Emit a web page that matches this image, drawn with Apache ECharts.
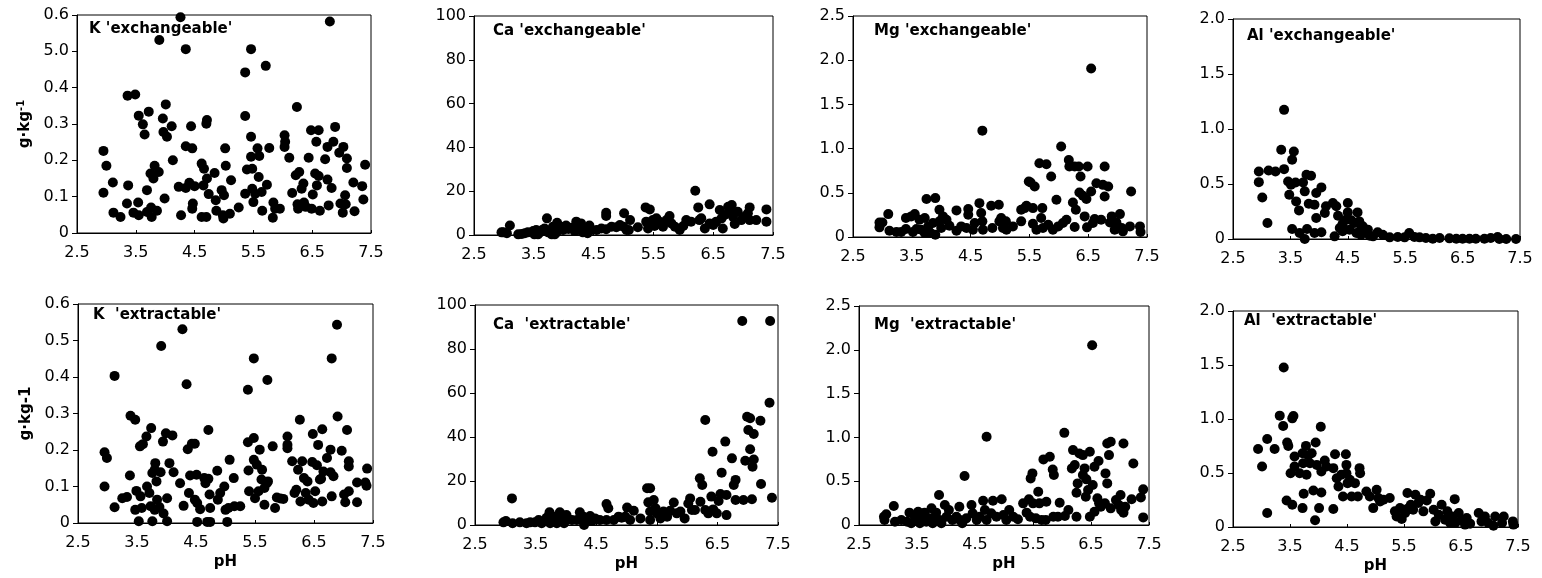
<!DOCTYPE html>
<html>
<head>
<meta charset="utf-8">
<script src="https://cdn.jsdelivr.net/npm/echarts@6/dist/echarts.min.js"></script>
<style>
  html, body { margin: 0; padding: 0; background: #fff; }
  #chart { width: 1542px; height: 578px; }
</style>
</head>
<body>
<div id="chart"></div>
<script>
// 每个小图的标题
const panelTitles = [
  "K 'exchangeable'", "Ca 'exchangeable'", "Mg 'exchangeable'", "Al 'exchangeable'",
  "K  'extractable'", "Ca  'extractable'", "Mg  'extractable'", "Al  'extractable'"
];

// y 轴刻度文字（原图第一幅图的 0.5 印成了 5.0）
const kTicksTop = ['0', '0.1', '0.2', '0.3', '0.4', '5.0', '0.6'];
const kTicks = ['0', '0.1', '0.2', '0.3', '0.4', '0.5', '0.6'];
const caTicks = ['0', '20', '40', '60', '80', '100'];
const mgTicks = ['0', '0.5', '1.0', '1.5', '2.0', '2.5'];
const alTicks = ['0', '0.5', '1.0', '1.5', '2.0'];
const phTicks = ['2.5', '3.5', '4.5', '5.5', '6.5', '7.5'];

// 数据：[pH, g·kg-1]
const kExch = [
  [2.95,0.226],[2.95,0.111],[3.0,0.185],[3.11,0.139],[3.12,0.056],[3.24,0.044],[3.37,0.131],[3.36,0.378],
  [3.49,0.381],[3.35,0.081],[3.46,0.056],[3.54,0.084],[3.55,0.049],[3.55,0.323],[3.62,0.299],[3.65,0.271],
  [3.69,0.058],[3.69,0.118],[3.72,0.334],[3.75,0.164],[3.76,0.070],[3.77,0.044],[3.80,0.150],[3.82,0.185],
  [3.86,0.061],[3.89,0.168],[3.90,0.531],[3.96,0.315],[3.97,0.278],[4.01,0.354],[4.03,0.265],[3.99,0.095],
  [4.11,0.294],[4.13,0.200],[4.26,0.594],[4.23,0.127],[4.27,0.049],[4.35,0.506],[4.35,0.239],[4.35,0.124],
  [4.41,0.138],[4.44,0.294],[4.46,0.233],[4.50,0.129],[4.47,0.081],[4.46,0.067],[4.62,0.044],[4.62,0.191],
  [4.66,0.177],[4.65,0.131],[4.70,0.044],[4.71,0.150],[4.71,0.311],[4.70,0.301],[4.74,0.107],[4.84,0.165],
  [4.86,0.090],[4.87,0.061],[4.96,0.118],[5.0,0.104],[4.98,0.049],[5.02,0.233],[5.03,0.185],[4.99,0.040],
  [5.10,0.053],[5.12,0.145],[5.25,0.070],[5.36,0.322],[5.36,0.442],[5.36,0.108],[5.39,0.175],[5.46,0.506],
  [5.46,0.265],[5.46,0.210],[5.48,0.177],[5.48,0.122],[5.50,0.085],[5.53,0.108],[5.57,0.233],[5.59,0.154],
  [5.60,0.212],[5.64,0.113],[5.65,0.061],[5.71,0.460],[5.73,0.133],[5.77,0.234],[5.84,0.084],[5.83,0.042],
  [5.87,0.067],[5.95,0.067],[6.03,0.269],[6.04,0.251],[6.03,0.237],[6.11,0.207],[6.16,0.110],[6.24,0.347],
  [6.22,0.159],[6.28,0.168],[6.25,0.079],[6.26,0.067],[6.32,0.122],[6.35,0.136],[6.36,0.084],[6.39,0.072],
  [6.44,0.207],[6.48,0.283],[6.49,0.067],[6.51,0.106],[6.55,0.164],[6.57,0.251],[6.58,0.131],[6.61,0.283],
  [6.61,0.157],[6.63,0.061],[6.72,0.203],[6.76,0.237],[6.76,0.147],[6.78,0.076],[6.80,0.582],[6.83,0.124],
  [6.86,0.251],[6.89,0.292],[6.96,0.221],[6.98,0.081],[7.03,0.237],[7.02,0.056],[7.06,0.104],[7.07,0.079],
  [7.09,0.205],[7.09,0.179],[7.22,0.060],[7.20,0.139],[7.35,0.129],[7.37,0.092],[7.40,0.188]
];

const caExch = [
  [2.96,1.2],[2.99,1.2],[3.10,4.3],[3.05,0.8],[3.24,0.3],[3.35,0.8],[3.40,1.2],[3.49,1.8],[3.54,2.3],[3.51,0.3],
  [3.60,1.2],[3.64,2.3],[3.68,3.0],[3.72,7.6],[3.74,1.2],[3.79,2.3],[3.82,3.8],[3.85,0.3],[3.89,5.6],[3.88,1.2],
  [3.96,3.8],[3.99,2.3],[4.04,4.3],[4.08,2.7],[4.13,3.3],[4.21,6.1],[4.23,2.3],[4.29,5.3],[4.32,1.2],[4.35,3.3],
  [4.38,1.2],[4.43,4.3],[4.46,2.3],[4.55,2.3],[4.63,3.0],[4.71,10.2],[4.71,8.7],[4.71,2.6],[4.80,3.8],[4.88,3.5],
  [4.94,4.6],[5.01,9.9],[5.00,3.8],[5.05,2.3],[5.11,6.8],[5.09,2.3],[5.24,3.5],[5.37,12.6],[5.44,11.7],[5.38,6.1],
  [5.41,3.0],[5.49,6.8],[5.52,4.1],[5.55,7.6],[5.60,6.1],[5.66,3.8],[5.72,6.8],[5.77,8.7],[5.80,5.3],[5.86,3.8],
  [5.94,2.3],[6.00,4.1],[6.05,6.8],[6.13,6.1],[6.20,20.2],[6.25,12.6],[6.27,6.8],[6.30,7.6],[6.36,3.0],[6.44,14.0],
  [6.44,5.3],[6.50,4.6],[6.55,6.1],[6.61,11.4],[6.64,7.6],[6.66,3.0],[6.69,9.1],[6.75,12.9],[6.78,10.6],[6.81,13.7],
  [6.83,8.4],[6.86,5.0],[6.91,10.6],[6.97,6.8],[7.03,8.4],[7.11,12.6],[7.08,9.9],[7.11,6.8],[7.22,6.8],[7.39,11.7],
  [7.39,6.1],[3.57,0.3],[3.80,0.3],[4.18,2.0],[4.40,0.8],[3.30,0.5]
];

const mgExch = [
  [2.95,0.165],[3.0,0.165],[2.95,0.109],[3.10,0.259],[3.12,0.071],[3.24,0.056],[3.32,0.056],[3.40,0.090],
  [3.40,0.214],[3.49,0.233],[3.52,0.056],[3.55,0.259],[3.58,0.090],[3.63,0.195],[3.66,0.083],[3.72,0.045],
  [3.72,0.214],[3.75,0.429],[3.78,0.120],[3.82,0.045],[3.86,0.158],[3.90,0.440],[3.90,0.026],[3.97,0.308],
  [3.97,0.177],[4.03,0.233],[4.0,0.101],[4.09,0.195],[4.14,0.128],[4.26,0.301],[4.26,0.071],[4.34,0.120],
  [4.46,0.316],[4.46,0.252],[4.43,0.101],[4.54,0.083],[4.57,0.158],[4.65,0.383],[4.68,0.271],[4.70,1.203],
  [4.70,0.177],[4.71,0.083],[4.85,0.353],[4.87,0.101],[4.98,0.365],[4.99,0.177],[5.02,0.214],[5.05,0.101],
  [5.10,0.177],[5.11,0.083],[5.22,0.120],[5.36,0.308],[5.36,0.177],[5.42,0.327],[5.45,0.353],[5.49,0.628],
  [5.52,0.617],[5.56,0.327],[5.59,0.571],[5.56,0.150],[5.62,0.083],[5.67,0.835],[5.70,0.214],[5.72,0.327],
  [5.73,0.101],[5.79,0.823],[5.82,0.139],[5.87,0.684],[5.90,0.083],[5.96,0.421],[5.99,0.120],[6.04,1.023],
  [6.07,0.158],[6.13,0.195],[6.17,0.872],[6.18,0.797],[6.24,0.391],[6.27,0.797],[6.29,0.308],[6.27,0.113],
  [6.34,0.797],[6.37,0.684],[6.35,0.504],[6.41,0.466],[6.44,0.233],[6.47,0.429],[6.49,0.797],[6.48,0.109],
  [6.55,1.906],[6.55,0.515],[6.58,0.158],[6.61,0.203],[6.64,0.609],[6.72,0.195],[6.75,0.590],[6.78,0.459],
  [6.78,0.797],[6.84,0.571],[6.87,0.165],[6.90,0.233],[6.98,0.165],[6.95,0.083],[7.04,0.259],[7.07,0.101],
  [7.09,0.064],[7.21,0.120],[7.23,0.515],[7.38,0.120],[7.39,0.056]
];

const alExch = [
  [2.95,0.614],[2.95,0.517],[3.01,0.378],[3.10,0.145],[3.12,0.623],[3.24,0.614],[3.34,0.811],[3.39,1.174],
  [3.39,0.635],[3.46,0.523],[3.48,0.402],[3.51,0.493],[3.53,0.720],[3.56,0.796],[3.59,0.514],[3.53,0.091],
  [3.60,0.342],[3.65,0.260],[3.66,0.054],[3.72,0.514],[3.75,0.433],[3.75,0.0],[3.78,0.584],[3.79,0.091],
  [3.82,0.321],[3.86,0.575],[3.92,0.312],[3.95,0.418],[3.95,0.191],[3.92,0.054],[4.04,0.469],[4.04,0.061],
  [4.10,0.236],[4.12,0.297],[4.24,0.327],[4.27,0.024],[4.30,0.297],[4.33,0.212],[4.36,0.100],[4.41,0.070],
  [4.47,0.176],[4.50,0.327],[4.50,0.242],[4.53,0.085],[4.62,0.145],[4.67,0.242],[4.70,0.160],[4.73,0.039],
  [4.76,0.115],[4.85,0.085],[4.94,0.024],[5.02,0.061],[5.11,0.039],[5.23,0.015],[5.37,0.018],[5.49,0.015],
  [5.57,0.054],[5.66,0.018],[5.75,0.015],[5.86,0.009],[5.98,0.003],[6.10,0.009],[6.27,0.006],[6.39,0.003],
  [6.50,0.003],[6.62,0.003],[6.73,0.003],[6.88,0.003],[6.99,0.009],[7.11,0.018],[7.14,0.0],[7.26,0.0],
  [7.43,0.0],[4.41,0.139],[4.56,0.170],[4.65,0.054],[4.73,0.085],[4.88,0.030]
];

const kExtr = [
  [2.95,0.194],[2.99,0.178],[2.95,0.100],[3.12,0.403],[3.12,0.043],[3.25,0.068],[3.33,0.071],[3.38,0.130],
  [3.39,0.294],[3.47,0.283],[3.47,0.036],[3.49,0.088],[3.53,0.005],[3.55,0.210],[3.56,0.073],[3.60,0.216],
  [3.58,0.041],[3.66,0.237],[3.67,0.100],[3.71,0.082],[3.74,0.260],[3.73,0.046],[3.76,0.005],[3.76,0.137],
  [3.80,0.146],[3.81,0.164],[3.80,0.036],[3.83,0.114],[3.84,0.064],[3.88,0.044],[3.90,0.139],[3.91,0.485],
  [3.94,0.223],[3.95,0.026],[3.99,0.246],[4.01,0.068],[4.01,0.005],[4.05,0.164],[4.10,0.240],[4.12,0.139],
  [4.23,0.109],[4.27,0.531],[4.29,0.047],[4.34,0.380],[4.36,0.202],[4.38,0.082],[4.43,0.217],[4.48,0.217],
  [4.40,0.130],[4.51,0.132],[4.48,0.064],[4.52,0.055],[4.52,0.003],[4.57,0.038],[4.64,0.123],[4.66,0.109],
  [4.69,0.003],[4.71,0.255],[4.71,0.121],[4.73,0.078],[4.74,0.041],[4.74,0.003],[4.86,0.143],[4.87,0.064],
  [4.91,0.082],[4.98,0.100],[5.0,0.036],[5.03,0.003],[5.05,0.041],[5.07,0.173],[5.14,0.123],[5.15,0.046],
  [5.25,0.046],[5.38,0.365],[5.38,0.221],[5.39,0.144],[5.40,0.087],[5.48,0.233],[5.48,0.173],[5.48,0.451],
  [5.50,0.068],[5.53,0.160],[5.56,0.087],[5.58,0.201],[5.61,0.119],[5.62,0.146],[5.66,0.096],[5.66,0.050],
  [5.70,0.109],[5.72,0.114],[5.71,0.392],[5.80,0.210],[5.84,0.041],[5.87,0.070],[5.93,0.067],[5.98,0.066],
  [6.05,0.237],[6.05,0.214],[6.05,0.205],[6.13,0.169],[6.17,0.082],[6.20,0.091],[6.23,0.146],[6.26,0.283],
  [6.27,0.059],[6.30,0.169],[6.33,0.123],[6.36,0.082],[6.39,0.114],[6.41,0.064],[6.47,0.167],[6.48,0.244],
  [6.49,0.055],[6.52,0.087],[6.55,0.158],[6.57,0.214],[6.60,0.119],[6.62,0.121],[6.64,0.257],[6.64,0.059],
  [6.66,0.141],[6.72,0.178],[6.78,0.201],[6.78,0.139],[6.80,0.073],[6.80,0.451],[6.83,0.128],[6.89,0.543],
  [6.90,0.292],[6.97,0.198],[7.01,0.078],[7.03,0.057],[7.06,0.255],[7.09,0.169],[7.09,0.155],[7.09,0.087],
  [7.23,0.111],[7.23,0.057],[7.37,0.111],[7.39,0.102],[7.40,0.149]
];

const caExtr = [
  [2.97,1.2],[3.01,1.8],[3.11,12.1],[3.12,0.8],[3.24,1.2],[3.35,0.8],[3.41,1.2],[3.49,1.2],[3.55,2.3],[3.60,0.8],
  [3.64,1.8],[3.68,3.3],[3.73,5.8],[3.74,0.8],[3.78,2.3],[3.82,3.8],[3.85,0.8],[3.90,5.8],[3.93,2.3],[3.97,0.8],
  [4.01,4.5],[4.04,2.7],[4.10,2.3],[4.18,2.3],[4.23,5.8],[4.29,3.8],[4.30,0.0],[4.34,2.3],[4.40,4.1],[4.43,1.8],
  [4.48,3.0],[4.56,2.3],[4.67,9.5],[4.70,7.6],[4.67,2.3],[4.79,2.3],[4.87,3.8],[4.92,3.3],[5.01,7.9],[4.98,3.8],
  [5.06,2.3],[5.12,6.5],[5.23,3.0],[5.34,16.7],[5.39,16.7],[5.36,10.3],[5.39,6.1],[5.39,2.3],[5.45,11.4],[5.48,7.6],
  [5.50,5.3],[5.56,3.0],[5.61,6.1],[5.67,3.8],[5.72,6.5],[5.78,10.2],[5.83,5.3],[5.89,6.1],[5.96,3.0],[6.02,9.8],
  [6.05,12.1],[6.08,6.8],[6.13,6.8],[6.21,21.2],[6.22,10.6],[6.25,18.2],[6.30,47.7],[6.30,6.8],[6.35,5.3],[6.40,12.9],
  [6.42,33.3],[6.43,7.1],[6.49,5.3],[6.52,10.9],[6.55,14.1],[6.57,23.8],[6.63,37.9],[6.65,13.6],[6.65,4.5],[6.74,30.3],
  [6.77,18.2],[6.80,20.5],[6.80,11.4],[6.91,92.7],[6.93,11.4],[6.96,29.2],[6.99,49.2],[7.04,48.5],[7.01,43.2],[7.04,34.4],
  [7.08,26.5],[7.10,29.8],[7.10,41.4],[7.07,11.7],[7.21,47.4],[7.22,18.6],[7.37,92.7],[7.36,55.6],[7.40,12.4]
];

const mgExtr = [
  [2.93,0.095],[2.97,0.122],[2.94,0.057],[3.10,0.217],[3.12,0.038],[3.23,0.057],[3.33,0.038],[3.37,0.141],
  [3.40,0.019],[3.46,0.103],[3.52,0.152],[3.50,0.057],[3.55,0.019],[3.58,0.095],[3.63,0.141],[3.66,0.038],
  [3.71,0.076],[3.75,0.190],[3.77,0.019],[3.81,0.095],[3.83,0.141],[3.88,0.342],[3.89,0.057],[3.92,0.019],
  [3.98,0.228],[4.01,0.095],[4.05,0.171],[4.11,0.057],[4.18,0.095],[4.23,0.209],[4.24,0.057],[4.28,0.019],
  [4.32,0.559],[4.35,0.076],[4.44,0.228],[4.46,0.133],[4.53,0.057],[4.58,0.095],[4.64,0.277],[4.67,0.171],
  [4.70,1.007],[4.70,0.057],[4.78,0.133],[4.81,0.277],[4.87,0.095],[4.96,0.293],[4.99,0.114],[5.04,0.057],
  [5.09,0.171],[5.16,0.095],[5.24,0.065],[5.33,0.247],[5.39,0.141],[5.43,0.293],[5.45,0.095],[5.46,0.532],
  [5.49,0.589],[5.50,0.247],[5.55,0.076],[5.59,0.380],[5.61,0.247],[5.65,0.057],[5.68,0.749],[5.72,0.057],
  [5.73,0.266],[5.79,0.779],[5.84,0.634],[5.86,0.570],[5.85,0.095],[5.93,0.095],[5.96,0.255],[6.04,1.052],
  [6.05,0.103],[6.11,0.171],[6.17,0.646],[6.19,0.855],[6.22,0.684],[6.25,0.095],[6.25,0.369],[6.27,0.475],
  [6.30,0.817],[6.36,0.798],[6.36,0.570],[6.39,0.646],[6.41,0.323],[6.42,0.521],[6.45,0.399],[6.48,0.836],
  [6.48,0.095],[6.52,2.052],[6.53,0.456],[6.56,0.665],[6.56,0.152],[6.61,0.304],[6.63,0.730],[6.64,0.247],
  [6.67,0.209],[6.74,0.247],[6.75,0.589],[6.78,0.475],[6.78,0.931],[6.81,0.798],[6.84,0.950],[6.84,0.190],
  [6.93,0.285],[6.98,0.228],[7.01,0.342],[7.02,0.171],[7.06,0.141],[7.06,0.931],[7.09,0.209],[7.20,0.293],
  [7.23,0.703],[7.36,0.315],[7.40,0.407],[7.40,0.087]
];

const alExtr = [
  [2.94,0.723],[3.01,0.560],[3.10,0.815],[3.10,0.129],[3.23,0.723],[3.32,1.031],[3.38,0.935],[3.39,1.477],
  [3.45,0.782],[3.47,0.751],[3.44,0.246],[3.54,1.006],[3.56,1.028],[3.51,0.498],[3.54,0.206],[3.58,0.652],
  [3.58,0.560],[3.67,0.498],[3.72,0.683],[3.72,0.175],[3.73,0.591],[3.74,0.308],[3.78,0.751],[3.79,0.483],
  [3.82,0.662],[3.85,0.591],[3.88,0.683],[3.91,0.338],[3.94,0.062],[3.95,0.782],[3.97,0.575],[4.01,0.175],
  [4.04,0.929],[4.05,0.320],[4.05,0.514],[4.11,0.615],[4.14,0.560],[4.26,0.545],[4.26,0.166],[4.29,0.674],
  [4.32,0.452],[4.35,0.375],[4.40,0.483],[4.43,0.283],[4.48,0.674],[4.49,0.575],[4.49,0.498],[4.51,0.406],
  [4.55,0.437],[4.58,0.283],[4.64,0.406],[4.69,0.283],[4.72,0.545],[4.73,0.498],[4.84,0.329],[4.90,0.283],
  [4.96,0.175],[5.02,0.345],[5.05,0.268],[5.08,0.237],[5.14,0.252],[5.25,0.268],[5.34,0.145],[5.37,0.098],
  [5.43,0.175],[5.46,0.074],[5.49,0.160],[5.52,0.129],[5.56,0.314],[5.58,0.175],[5.62,0.206],[5.66,0.160],
  [5.70,0.298],[5.75,0.222],[5.79,0.252],[5.84,0.145],[5.90,0.246],[5.96,0.308],[6.02,0.160],[6.05,0.052],
  [6.11,0.114],[6.16,0.206],[6.22,0.068],[6.26,0.145],[6.31,0.037],[6.35,0.098],[6.39,0.258],[6.40,0.037],
  [6.46,0.129],[6.51,0.068],[6.57,0.022],[6.60,0.083],[6.66,0.031],[6.81,0.129],[6.86,0.052],[6.92,0.098],
  [6.98,0.037],[7.07,0.012],[7.10,0.098],[7.22,0.037],[7.25,0.098],[7.41,0.052],[7.42,0.022]
];

// 面板配置
const panelData = [kExch, caExch, mgExch, alExch, kExtr, caExtr, mgExtr, alExtr];
const panelTicks = [kTicksTop, caTicks, mgTicks, alTicks, kTicks, caTicks, mgTicks, alTicks];
const panelMax = [0.6, 100, 2.5, 2.0, 0.6, 100, 2.5, 2.0];
const panelStep = [0.1, 20, 0.5, 0.5, 0.1, 20, 0.5, 0.5];

// 绘图区位置 [left, top, width, height]
const boxes = [
  [77, 15, 294, 218], [474, 16, 299, 219], [853, 16, 294, 221], [1233, 19, 287, 220],
  [78, 304, 295, 219], [475, 305, 303, 220], [859, 306, 290, 219], [1233, 311, 285, 216]
];
// 标题位置 [x, 中心 y]
const titlePos = [
  [89, 31], [493, 33], [874, 33], [1247, 38],
  [93, 317], [493, 327], [874, 327], [1244, 323]
];

const FONT = 'DejaVu Sans';
const grids = [], xAxes = [], yAxes = [], series = [], titles = [];

panelData.forEach((data, i) => {
  const b = boxes[i];
  grids.push({
    left: b[0], top: b[1], width: b[2], height: b[3],
    show: true, borderColor: '#000', borderWidth: 1, backgroundColor: 'transparent'
  });

  xAxes.push({
    gridIndex: i, type: 'value', min: 2.5, max: 7.5, interval: 1,
    splitLine: { show: false },
    axisLine: { lineStyle: { color: '#000', width: 1 } },
    axisTick: { show: true, inside: true, length: 3, lineStyle: { color: '#000' } },
    axisLabel: {
      margin: 12, color: '#000', fontSize: 16, fontFamily: FONT,
      formatter: (v) => phTicks[Math.round(v - 2.5)]
    },
    name: i >= 4 ? 'pH' : '',
    nameLocation: 'middle', nameGap: 32,
    nameTextStyle: { color: '#000', fontSize: 15, fontWeight: 'bold', fontFamily: FONT }
  });

  const ticks = panelTicks[i];
  const step = panelStep[i];
  let yName = '';
  if (i === 0) yName = '{a|g·kg}{s|-1}';
  if (i === 4) yName = '{a|g·kg-1}';
  yAxes.push({
    gridIndex: i, type: 'value', min: 0, max: panelMax[i], interval: step,
    splitLine: { show: false },
    axisLine: { show: true, lineStyle: { color: '#000', width: 1 } },
    axisTick: { show: true, length: 5, lineStyle: { color: '#000' } },
    axisLabel: {
      margin: 8, color: '#000', fontSize: 16, fontFamily: FONT,
      formatter: (v) => ticks[Math.round(v / step)]
    },
    name: yName,
    nameLocation: 'middle', nameGap: 43,
    nameTextStyle: {
      color: '#000', fontFamily: FONT,
      rich: {
        a: { fontSize: 15, fontWeight: 'bold', fontFamily: FONT, color: '#000', lineHeight: 18 },
        s: { fontSize: 10, fontWeight: 'bold', fontFamily: FONT, color: '#000', lineHeight: 10, verticalAlign: 'top' }
      }
    }
  });

  series.push({
    type: 'scatter', xAxisIndex: i, yAxisIndex: i,
    data: data, symbol: 'circle', symbolSize: 10,
    itemStyle: { color: '#000', opacity: 1 },
    silent: true, animation: false
  });

  titles.push({
    text: panelTitles[i],
    left: titlePos[i][0], top: titlePos[i][1] - 9, padding: 0,
    textStyle: { color: '#000', fontSize: 15, fontWeight: 'bold', fontFamily: FONT }
  });
});

const chart = echarts.init(document.getElementById('chart'));
chart.setOption({
  backgroundColor: '#fff',
  animation: false,
  title: titles,
  grid: grids,
  xAxis: xAxes,
  yAxis: yAxes,
  series: series
});
</script>
</body>
</html>
